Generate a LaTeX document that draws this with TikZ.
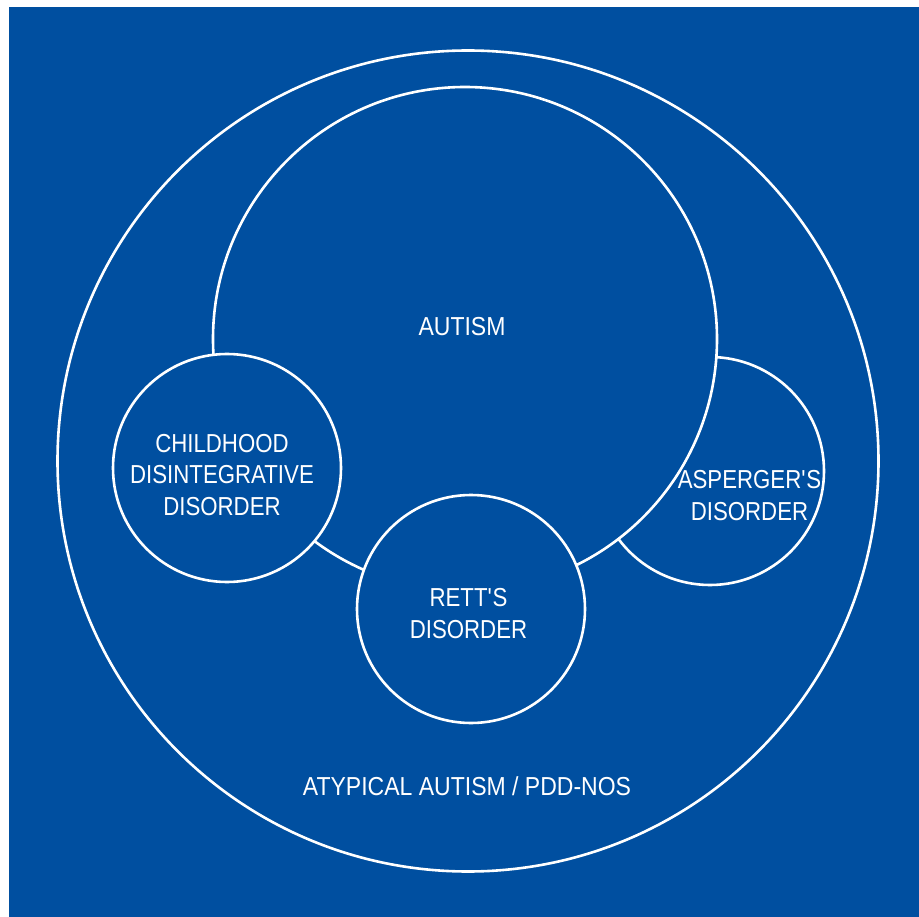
\documentclass[tikz,border=0pt]{standalone}
\usepackage{fontspec}
\setmainfont[FakeStretch=0.885]{Liberation Sans}
\newfontfamily\narrowlbl[FakeStretch=0.855]{Liberation Sans}
\definecolor{bg}{RGB}{0,79,160}
\begin{document}
\begin{tikzpicture}[x=1pt,y=-1pt,
  ring/.style={draw=white,line width=2.6pt,fill=bg},
  lbl/.style={text=white,font=\fontsize{26}{31.5}\selectfont,align=center,inner sep=0pt},
  slbl/.style={lbl,font=\narrowlbl\fontsize{26}{31.5}\selectfont}]
\useasboundingbox (0,0) rectangle (919,917);
\fill[white] (0,0) rectangle (919,917);
\fill[bg] (9,7) rectangle (919,917);
\draw[ring] (468,461) circle[radius=410.5];
\node[lbl] (outerlbl) at (467,786) {ATYPICAL AUTISM / PDD-NOS};
\draw[ring] (710,471) circle[radius=114];
\draw[ring] (465,339) circle[radius=252];
\draw[ring] (227,468) circle[radius=114];
\draw[ring] (471,609) circle[radius=114];
\node[lbl] (autism) at (462,327) {AUTISM};
\node[slbl] (cdd) at (222,475) {CHILDHOOD\\DISINTEGRATIVE\\DISORDER};
\node[slbl] (asp) at (749.5,495.5) {ASPERGER\textquotesingle S\\DISORDER};
\node[slbl] (rett) at (468.5,613.5) {RETT\textquotesingle S\\DISORDER};
\end{tikzpicture}
\end{document}
